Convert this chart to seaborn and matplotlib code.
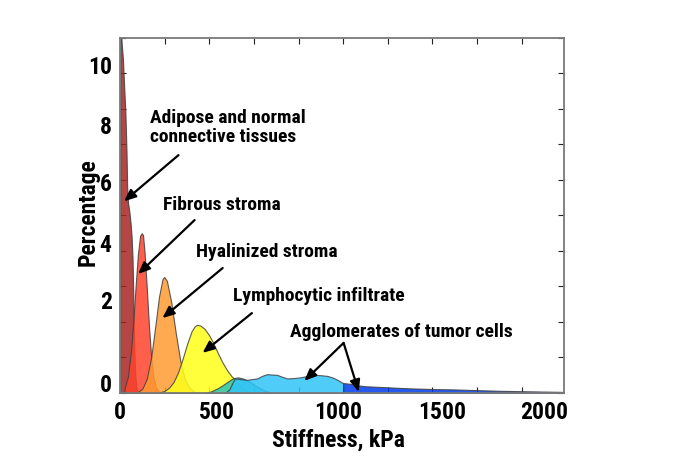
import numpy as np
import pandas as pd
import seaborn as sns
import matplotlib.pyplot as plt
from matplotlib import font_manager
from matplotlib.ticker import MultipleLocator

# --- data (stiffness in kPa, percentage) ---
adipose_x = [0, 1, 4, 8, 13, 18, 24, 29, 32, 36, 42, 47, 52, 56, 59, 62, 65, 69, 74, 80]
adipose_y = [0, 10.8, 10.2, 9.8, 9.4, 8.7, 7.9, 6.8, 5.8, 5.35, 5.1, 4.8, 4.4, 3.8, 2.9,
             1.8, 1.0, 0.45, 0.15, 0]

fibrous_x = [20, 35, 50, 60, 70, 80, 90, 97, 103, 110, 120, 130, 140, 150, 160, 175, 190]
fibrous_y = [0.12, 0.45, 1.24, 2.06, 3.02, 3.90, 4.43, 4.50, 4.45, 3.96, 2.95, 1.85, 0.98,
             0.45, 0.17, 0.03, 0]

hyalin_x = [80, 100, 120, 140, 160, 175, 190, 198, 210, 230, 250, 270, 290, 310, 335]
hyalin_y = [0.03, 0.12, 0.40, 1.02, 1.98, 2.72, 3.20, 3.27, 3.16, 2.54, 1.68, 0.91, 0.40, 0.15, 0.03]

lympho_x = [180, 200, 220, 240, 260, 280, 300, 320, 335, 345, 360, 380, 400, 420, 440,
            460, 480, 500, 515, 530, 550, 570, 590]
lympho_y = [0.02, 0.06, 0.15, 0.31, 0.58, 0.95, 1.37, 1.73, 1.88, 1.92, 1.90, 1.80, 1.62,
            1.38, 1.10, 0.85, 0.64, 0.47, 0.38, 0.26, 0.13, 0.05, 0]

teal_x = [385, 410, 440, 470, 495, 510, 530, 555, 580, 610, 640, 670, 690]
teal_y = [0, 0.05, 0.14, 0.26, 0.37, 0.42, 0.44, 0.40, 0.32, 0.20, 0.09, 0.02, 0]

cyan_x = [470, 490, 505, 515, 540, 569, 590, 614, 640, 659, 680, 704, 725, 749, 780,
          808, 840, 867, 900, 930, 955, 975, 990, 1000]
cyan_y = [0, 0.10, 0.30, 0.41, 0.39, 0.37, 0.39, 0.41, 0.49, 0.53, 0.52, 0.51, 0.46,
          0.41, 0.42, 0.44, 0.48, 0.51, 0.50, 0.48, 0.43, 0.37, 0.31, 0.28]

blue_x = [1000, 1030, 1057, 1100, 1200, 1300, 1409, 1500, 1600, 1711, 1800, 1900, 1990]
blue_y = [0.28, 0.26, 0.22, 0.19, 0.16, 0.13, 0.11, 0.10, 0.08, 0.06, 0.05, 0.04, 0.03]

series = [
    (adipose_x, adipose_y, '#a72525'),
    (fibrous_x, fibrous_y, '#ff432b'),
    (hyalin_x, hyalin_y, '#ff9b31'),
    (lympho_x, lympho_y, '#ffff1a'),
    (teal_x, teal_y, '#2bc4b8'),
    (cyan_x, cyan_y, '#31c4f9'),
    (blue_x, blue_y, '#003ded'),
]

# tick labels sit where the original figure put them
xtick_pos = [0, 434, 976, 1442, 1903]
xtick_lab = ['0', '500', '1000', '1500', '2000']
ytick_pos = [0.27, 2.63, 4.23, 5.93, 7.55, 9.23]
ytick_lab = ['0', '2', '4', '6', '8', '10']

# annotations: text, text position, arrows (from x, from y, to x, to y)
notes = [
    ('Adipose and normal\nconnective tissues', (135, 7.48), [(262, 6.70, 18, 5.4)]),
    ('Fibrous stroma', (193, 5.30), [(334, 4.87, 81, 3.35)]),
    ('Hyalinized stroma', (340, 3.97), [(460, 3.52, 190, 2.11)]),
    ('Lymphocytic infiltrate', (506, 2.73), [(591, 2.25, 370, 1.13)]),
    ('Agglomerates of tumor cells', (763, 1.72), [(1002, 1.41, 826, 0.34),
                                                 (1002, 1.41, 1070, 0.03)]),
]

sns.set_style('ticks')

# pick a narrow face if one is installed, else shrink the regular one
names = {f.name for f in font_manager.fontManager.ttflist}
narrow = [n for n in ['Liberation Sans Narrow', 'Arial Narrow', 'DejaVu Sans Condensed',
                      'Roboto Condensed', 'Open Sans Condensed'] if n in names]
if narrow:
    family = [narrow[0], 'Liberation Sans', 'DejaVu Sans']
    k = 1.0
else:
    family = ['Liberation Sans', 'DejaVu Sans']
    k = 0.86
plt.rcParams['font.family'] = family
plt.rcParams['font.weight'] = 'bold'
plt.rcParams['text.color'] = 'black'
plt.rcParams['axes.labelcolor'] = 'black'

fig = plt.figure(figsize=(6.82, 4.68), dpi=100)
ax = fig.add_axes([0.1760, 0.1603, 0.6510, 0.7585])

for x, y, c in series:
    ax.fill_between(x, y, 0, facecolor=c, alpha=0.85, edgecolor='#404040',
                    linewidth=0.8, zorder=2)

ax.set_xlim(0, 1990)
ax.set_ylim(0, 10)

ax.set_xticks(xtick_pos)
ax.set_xticklabels(xtick_lab)
ax.set_yticks(ytick_pos)
ax.set_yticklabels(ytick_lab)
ax.tick_params(axis='both', which='major', length=0, labelsize=17 * k, pad=6,
               labelcolor='black')
ax.xaxis.set_minor_locator(MultipleLocator(200))
ax.yaxis.set_minor_locator(MultipleLocator(1))
ax.tick_params(axis='both', which='minor', direction='in', length=4, width=0.8,
               color='#222222', top=True, right=True)
for s in ax.spines.values():
    s.set_visible(True)
    s.set_color('#7a7a7a')
    s.set_linewidth(1.3)

ax.set_xlabel('Stiffness, kPa', fontsize=17 * k, fontweight='bold')
ax.set_ylabel('Percentage', fontsize=17 * k, fontweight='bold')
ax.xaxis.set_label_coords(0.491, -0.10)
ax.yaxis.set_label_coords(-0.047, 0.51)

for text, (tx, ty), arrows in notes:
    ax.text(tx, ty, text, fontsize=14 * k, fontweight='bold', ha='left', va='center',
            linespacing=1.1, zorder=5)
    for x0, y0, x1, y1 in arrows:
        ax.annotate('', xy=(x1, y1), xytext=(x0, y0),
                    arrowprops=dict(arrowstyle='-|>,head_length=0.7,head_width=0.3',
                                    color='black', lw=1.6, shrinkA=0, shrinkB=0),
                    zorder=5)

fig.savefig('out.png', dpi=100)
